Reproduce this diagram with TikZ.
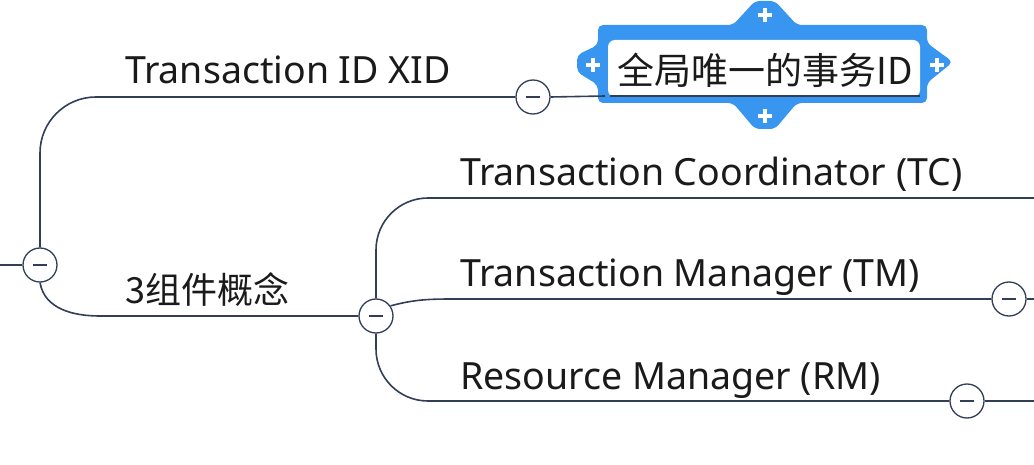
\documentclass[tikz,border=0pt]{standalone}
\usepackage{fontspec}
\setmainfont{Noto Sans}
\newfontfamily\cjk{Noto Sans CJK SC}
\usepackage{tikz}
\usetikzlibrary{calc}
\definecolor{branch}{RGB}{50,62,88}
\definecolor{selblue}{RGB}{56,150,240}
\definecolor{ink}{RGB}{26,26,26}
\tikzset{
  fold/.style={circle,draw=branch,line width=1.3pt,fill=white,minimum size=34pt,inner sep=0pt,
    path picture={\draw[branch,line width=1.5pt]
      ([xshift=-7pt]path picture bounding box.center) -- ([xshift=7pt]path picture bounding box.center);}},
  topic/.style={anchor=base west,inner sep=0pt,text=ink,font=\fontsize{37.5}{40}\selectfont},
  link/.style={draw=branch,line width=1.6pt}
}
\begin{document}
\begin{tikzpicture}[x=1pt,y=-1pt]
\useasboundingbox (0,0) rectangle (1034,465);
% selected topic frame
\fill[selblue,rounded corners=5pt]
(598,25) -- (733,25) -- (755,1) -- (775,1) -- (797,25) -- (927,25)
-- (927,43) -- (953,62) -- (927,83) -- (927,103)
-- (797,103) -- (775,129) -- (755,129) -- (733,103) -- (598,103)
-- (598,85) -- (577,72) -- (577,55) -- (598,45) -- cycle;
\fill[white,rounded corners=7pt] (608,40) rectangle (920,97);
% the four plus handles
\foreach \px/\py in {765/15,765/116,593/65,937/65}
  \draw[white,line width=4.5pt] (\px-7,\py) -- (\px+7,\py) (\px,\py-7) -- (\px,\py+7);

% folding buttons
\node[fold] (c0) at (40,265) {};
\node[fold] (c1) at (533,97) {};
\node[fold] (c2) at (376,316) {};
\node[fold] (c4) at (1009,299) {};
\node[fold] (c5) at (967,401) {};

% free ends
\coordinate (root) at (0,265);
\coordinate (xidend) at (605,96);
\coordinate (ulstart) at (610,96);
\coordinate (ulend) at (920,96);
\coordinate (j2) at (100,316);
\coordinate (j4) at (455,299);
\coordinate (tcend) at (1034,198);
\coordinate (tmend) at (1034,299);
\coordinate (rmend) at (1034,401);

% texts
\node[topic] (xid) at (125,84) {Transaction ID XID};
\node[topic,font=\cjk\fontsize{36}{40}\selectfont] (comp) at (125,303) {3组件概念};
\node[topic] (tc) at (460,186) {Transaction Coordinator (TC)};
\node[topic] (tm) at (460,287) {Transaction Manager (TM)};
\node[topic] (rm) at (460,389) {Resource Manager (RM)};
\node[topic,anchor=base,font=\cjk\fontsize{37}{40}\selectfont] (gid) at (765,85) {全局唯一的事务ID};

% connectors
\draw[link] (root) -- (c0.west);
\draw[link,rounded corners=56pt] (c0.north) |- (c1.west);
\draw[link] (c0.south) to[out=-80,in=180] (j2) -- (c2.west);
\draw[link] (c1.east) -- (xidend);
\draw[branch,line width=1.6pt] (ulstart) -- (ulend);
\draw[link,rounded corners=52pt] (c2.north) |- (tcend);
\draw[link] (c2.35) to[out=15,in=180] (j4) -- (c4.west);
\draw[link] (c4.east) -- (tmend);
\draw[link,rounded corners=52pt] (c2.south) |- (c5.west);
\draw[link] (c5.east) -- (rmend);
\end{tikzpicture}
\end{document}
